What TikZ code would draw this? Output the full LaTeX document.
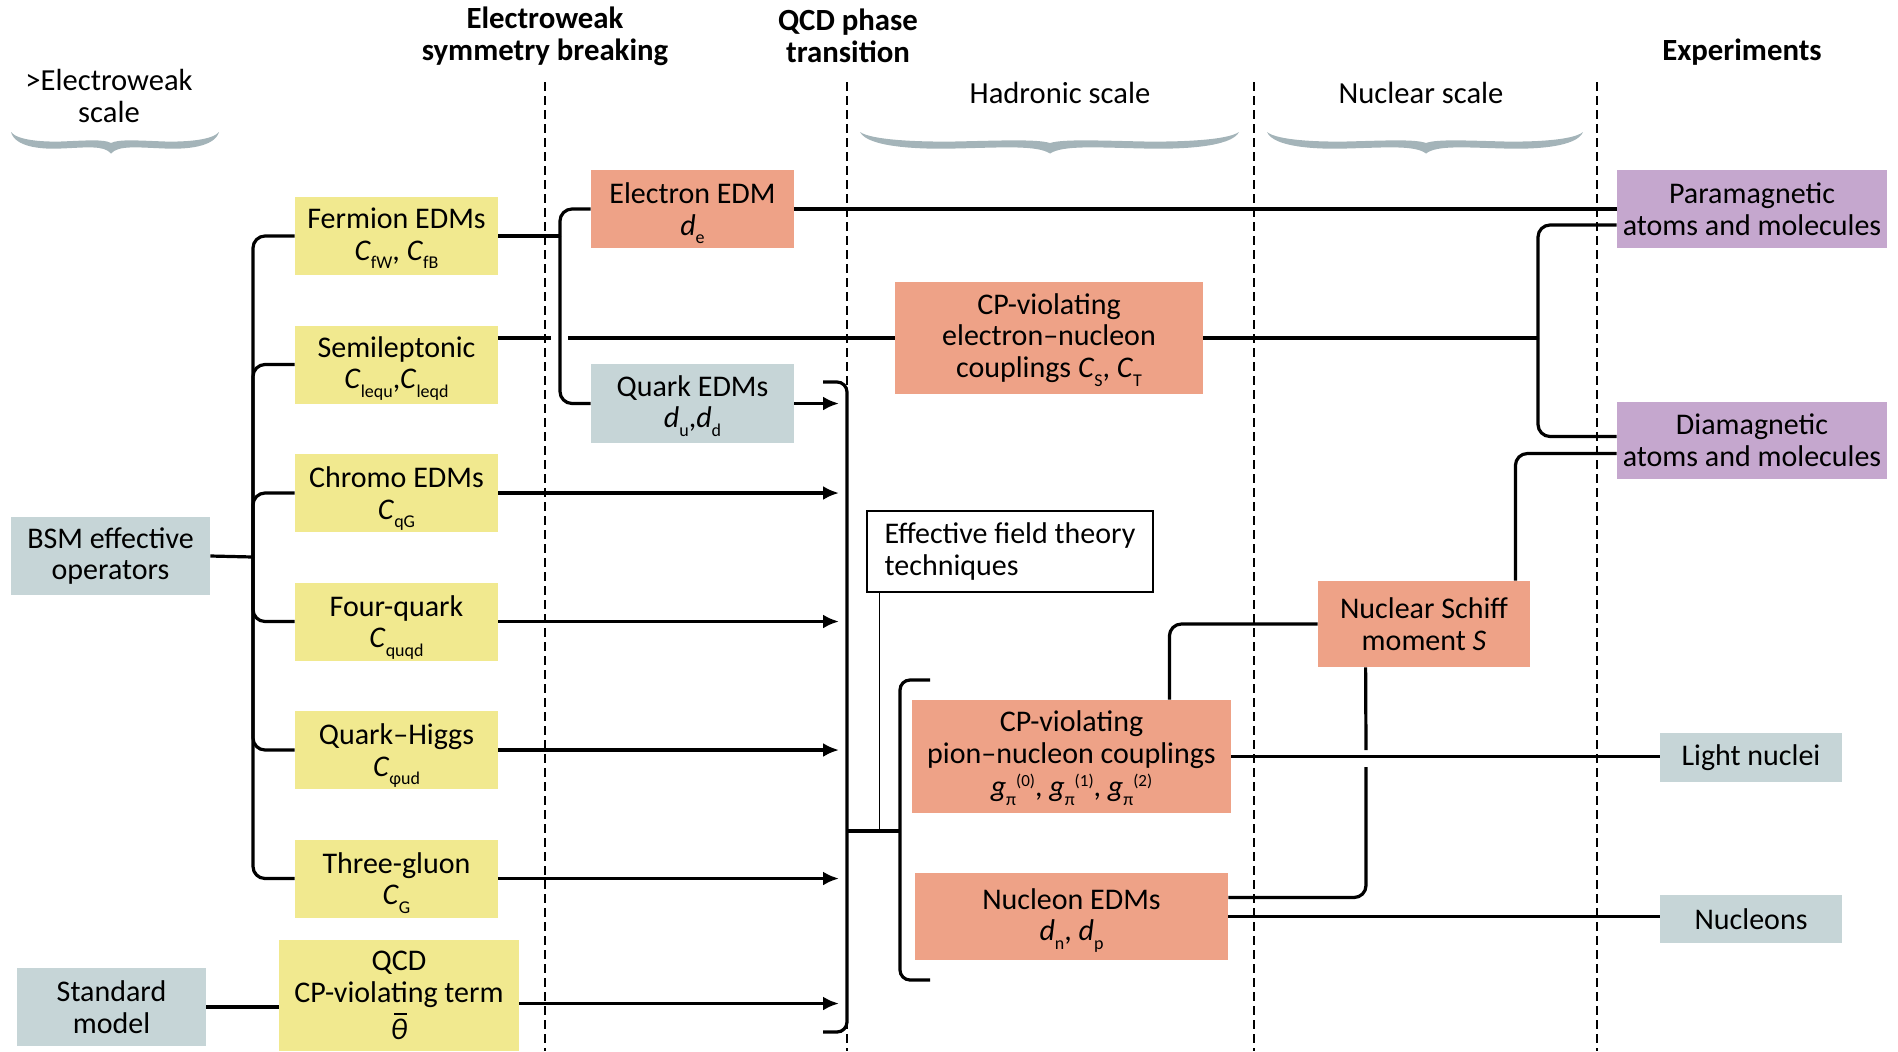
\documentclass[tikz,border=0pt]{standalone}
\usepackage{fontspec}
\setmainfont{Carlito}
\usepackage{tikz}
\usetikzlibrary{shapes,arrows,arrows.meta,positioning,calc}

\definecolor{opyellow}{HTML}{F1E98F}
\definecolor{lowsalmon}{HTML}{EEA287}
\definecolor{expgray}{HTML}{C6D5D7}
\definecolor{atompurple}{HTML}{C5A7CE}
\definecolor{bracegray}{HTML}{A4B4B9}

\newcommand{\lo}[1]{\raisebox{-0.6ex}[0.6ex][0pt]{\fontsize{9}{9}\selectfont #1}}
\newcommand{\hi}[1]{\raisebox{0.7ex}[1ex][0pt]{\fontsize{8.5}{8.5}\selectfont #1}}
\newcommand{\thetabar}{\makebox[0pt][l]{\hspace{0.12em}\raisebox{1.75ex}[0pt][0pt]{\rule{0.42em}{0.7pt}}}\textit{θ}}
% one half of a scale brace, end at x=0, tip at x=1
\newcommand{\bracearm}{(0,0) .. controls (0.04,15) and (0.3,17.5) .. (0.5,16.5) .. controls (0.75,15.5) and (0.93,13) .. (1,21.5) -- (1,11) .. controls (0.93,7) and (0.75,8.5) .. (0.5,9.5) .. controls (0.3,10) and (0.06,8) .. (0,0) -- cycle}

\begin{document}
\begin{tikzpicture}[x=0.5pt,y=-0.5pt,
  box/.style={inner sep=0pt, align=center, font=\fontsize{15}{15.8}\selectfont},
  opbox/.style={box, fill=opyellow, minimum width=101.5pt, minimum height=39pt},
  lowbox/.style={box, fill=lowsalmon, minimum width=101.5pt, minimum height=39pt},
  expbox/.style={box, fill=expgray},
  atombox/.style={box, fill=atompurple, minimum width=135pt, minimum height=39pt},
  eftbox/.style={draw, line width=0.7pt, fill=white, inner sep=0pt, align=left,
    minimum width=143pt, minimum height=40.5pt, font=\fontsize{15}{15.8}\selectfont},
  heading/.style={align=center, font=\fontsize{15.4}{16}\selectfont\bfseries},
  scalelabel/.style={align=center, font=\fontsize{15.3}{16}\selectfont},
  divider/.style={line width=0.6pt, dash pattern=on 4.5pt off 2.5pt},
  wire/.style={line width=1.6pt},
  arr/.style={wire, -{Latex[length=8pt,width=7pt]}}]
\useasboundingbox (0,0) rectangle (1898,1051);

% scale dividers
\foreach \x in {545,847,1254,1597}
  \draw[divider] (\x,82) -- (\x,1051);

% braces
\fill[bracegray, shift={(11,132)}, xscale=100] \bracearm;
\fill[bracegray, shift={(219,132)}, xscale=-108] \bracearm;
\fill[bracegray, shift={(860,132)}, xscale=190] \bracearm;
\fill[bracegray, shift={(1239,132)}, xscale=-189] \bracearm;
\fill[bracegray, shift={(1267,132)}, xscale=159] \bracearm;
\fill[bracegray, shift={(1583,132)}, xscale=-157] \bracearm;

% headings
\node[heading] (hew) at (545,36) {Electroweak\\symmetry breaking};
\node[heading] (hqcd) at (848,36) {QCD phase\\transition};
\node[heading] (hexp) at (1742,52) {Experiments};
\node[scalelabel] (hhigh) at (109,96) {>Electroweak\\scale};
\node[scalelabel] (hhad) at (1060,93) {Hadronic scale};
\node[scalelabel] (hnuc) at (1421,93) {Nuclear scale};

% sources
\node[expbox, minimum width=99.5pt, minimum height=39pt] (bsm) at (110.5,556) {BSM effective\\operators};
\node[expbox, minimum width=94.5pt, minimum height=39pt] (sm) at (111.5,1007) {Standard\\model};

% operators
\node[opbox] (fermion) at (396.5,236) {Fermion EDMs\\\textit{C}\lo{fW}, \textit{C}\lo{fB}};
\node[opbox] (semi) at (396.5,364.5) {Semileptonic\\\textit{C}\lo{lequ},\textit{C}\lo{leqd}};
\node[opbox] (chromo) at (396.5,493) {Chromo EDMs\\\textit{C}\lo{qG}};
\node[opbox] (four) at (396.5,621.5) {Four-quark\\\textit{C}\lo{quqd}};
\node[opbox] (higgs) at (396.5,750) {Quark–Higgs\\\textit{C}\lo{φud}};
\node[opbox] (gluon) at (396.5,878.5) {Three-gluon\\\textit{C}\lo{G}};
\node[opbox, minimum width=120pt, minimum height=55.5pt] (qcd) at (399,995.5) {QCD\\CP-violating term\\[3pt]\thetabar};

% low-energy quantities
\node[lowbox] (electron) at (692.5,209) {Electron EDM\\\textit{d}\lo{e}};
\node[expbox, minimum width=101.5pt, minimum height=39.5pt] (quark) at (692.5,403.5) {Quark EDMs\\\textit{d}\lo{u},\textit{d}\lo{d}};
\node[lowbox, minimum width=154pt, minimum height=56pt] (cpen) at (1049,338) {CP-violating\\electron–nucleon\\couplings \textit{C}\lo{S}, \textit{C}\lo{T}};
\node[eftbox] (eft) at (1010,551.5) {Effective field theory\\techniques};
\node[lowbox, minimum width=159.5pt, minimum height=56.5pt] (pion) at (1071.5,756.5) {CP-violating\\pion–nucleon couplings\\[1pt]\textit{g}\lo{π}\hi{(0)}, \textit{g}\lo{π}\hi{(1)}, \textit{g}\lo{π}\hi{(2)}};
\node[lowbox, minimum width=156.5pt, minimum height=43.5pt] (nucleon) at (1071.5,916.5) {Nucleon EDMs\\\textit{d}\lo{n}, \textit{d}\lo{p}};
\node[lowbox, minimum width=106pt, minimum height=43pt] (schiff) at (1424,624) {Nuclear Schiff\\moment \textit{S}};

% experiments
\node[atombox] (para) at (1752,209) {Paramagnetic\\atoms and molecules};
\node[atombox, minimum height=38.5pt] (dia) at (1752,440.5) {Diamagnetic\\atoms and molecules};
\node[expbox, minimum width=91pt, minimum height=24.5pt] (light) at (1751,757.5) {Light nuclei};
\node[expbox, minimum width=91pt, minimum height=24pt] (nucleons) at (1751,919) {Nucleons};

% junction points
\coordinate (trunk) at (253,557);
\coordinate (fsplit) at (560,236);
\coordinate (gapl) at (551,338);
\coordinate (gapr) at (568,338);
\coordinate (esplit) at (1538,338);
\coordinate (arrx) at (839,0);
\coordinate (b1top) at (847,382);
\coordinate (b1bot) at (847,1032);
\coordinate (b1mid) at (847,831);
\coordinate (b2top) at (900,680);
\coordinate (b2bot) at (900,980);
\coordinate (b2mid) at (900,831);
\coordinate (sgapa) at (1366,750);
\coordinate (sgapb) at (1366,767);

% BSM tree
\draw[wire] (bsm.east) -- (trunk);
\foreach \n in {fermion,semi,chromo,four,higgs,gluon}
  \draw[wire, rounded corners=6pt] (\n.west) -| (trunk);
\draw[wire] (sm.east) -- (sm.east -| qcd.west);

% electroweak scale
\draw[wire] (fermion.east) -- (fsplit);
\draw[wire, rounded corners=6pt] (electron.west) -| (fsplit);
\draw[wire, rounded corners=6pt] (quark.west) -| (fsplit);
\draw[wire] (semi.east |- gapl) -- (gapl);
\draw[wire] (gapr) -- (cpen.west);

% into the QCD bracket
\foreach \n in {quark,chromo,four,higgs,gluon}
  \draw[arr] (\n.east) -- (\n.east -| arrx);
\draw[arr] ($(qcd.east)+(0,8)$) -- ($(qcd.east -| arrx)+(0,8)$);
\draw[wire, rounded corners=5pt] ($(b1top)+(-24,0)$) -- (b1top) -- (b1bot) -- ($(b1bot)+(-24,0)$);
\draw[wire] (b1mid) -- (b2mid);
\draw[wire, rounded corners=5pt] ($(b2top)+(30,0)$) -- (b2top) -- (b2bot) -- ($(b2bot)+(30,0)$);
\coordinate (eftfoot) at ($(eft.south west)+(13,0)$);
\draw[line width=0.5pt] (eftfoot) -- (eftfoot |- b1mid);

% hadronic and nuclear scale
\draw[wire] (electron.east) -- (para.west);
\draw[wire] (cpen.east) -- (esplit);
\draw[wire, rounded corners=6pt] ($(para.west)+(0,16)$) -| (esplit);
\draw[wire, rounded corners=6pt] ($(dia.west)+(0,-4)$) -| (esplit);
\draw[wire, rounded corners=6pt] ($(dia.west)+(0,13)$) -| ($(schiff.north east)+(-15,0)$);
\draw[wire, rounded corners=6pt] (schiff.west) -| ($(pion.north east)+(-62,0)$);
\draw[wire] ($(schiff.south west)+(48,0)$) -- (sgapa);
\draw[wire, rounded corners=6pt] (sgapb) |- ($(nucleon.east)+(0,-19)$);
\draw[wire] (pion.east) -- (pion.east -| light.west);
\draw[wire] (nucleon.east) -- (nucleon.east -| nucleons.west);
\end{tikzpicture}
\end{document}
